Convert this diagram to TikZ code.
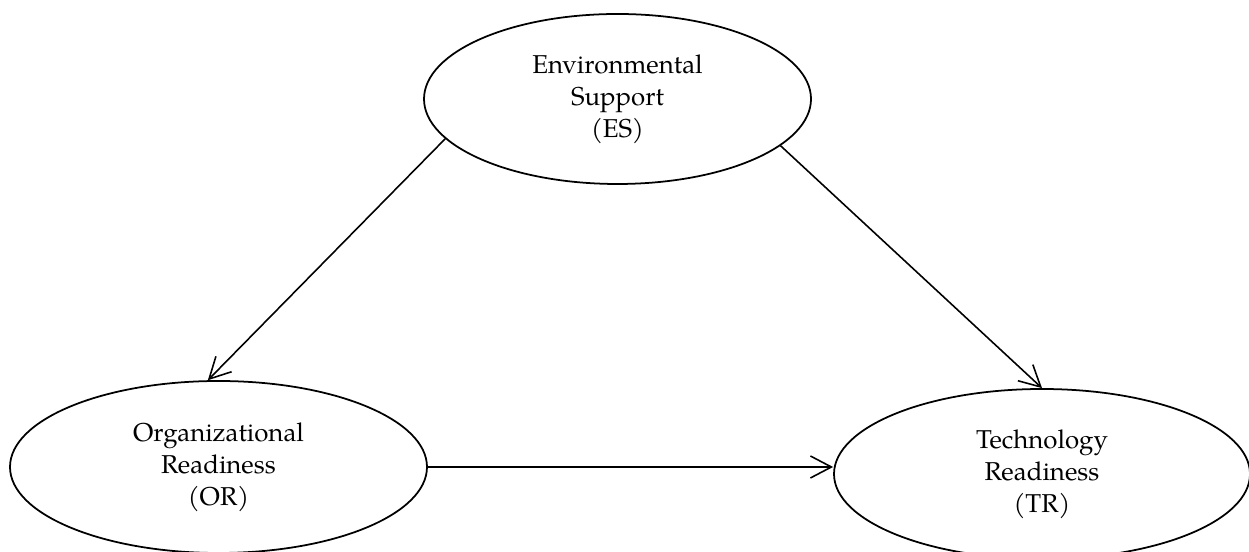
\documentclass[tikz,border=0pt]{standalone}
\usepackage{fontspec}
\setmainfont{TeX Gyre Pagella}
\usepackage{tikz}
\usetikzlibrary{shapes.geometric, arrows.meta, positioning}

\begin{document}
\begin{tikzpicture}[>={Straight Barb[length=4.2mm, width=4.4mm]},
		font=\fontsize{14.7}{18.2}\selectfont,
		construct/.style={draw, ellipse, line width=1pt, inner sep=0pt, align=center},
		path/.style={->, line width=0.9pt}]
	\useasboundingbox (0,0) rectangle (24.98,11.04);
	
	\node[construct, minimum width=7.74cm, minimum height=3.4cm] (es) at (12.35, 9.06) {Environmental\\Support\\(ES)};
	\node[construct, minimum width=8.34cm, minimum height=3.44cm] (or) at (4.37, 1.70) {Organizational\\Readiness\\(OR)};
	\node[construct, minimum width=8.32cm, minimum height=3.4cm] (tr) at (20.84, 1.56) {Technology\\Readiness\\(TR)};
	
	\draw[path] (es.193) -- (or.97);
	\draw[path] (es.344) -- (tr.north);
	\draw[path] (or.east) -- (or.east -| tr.west);
\end{tikzpicture}
\end{document}
